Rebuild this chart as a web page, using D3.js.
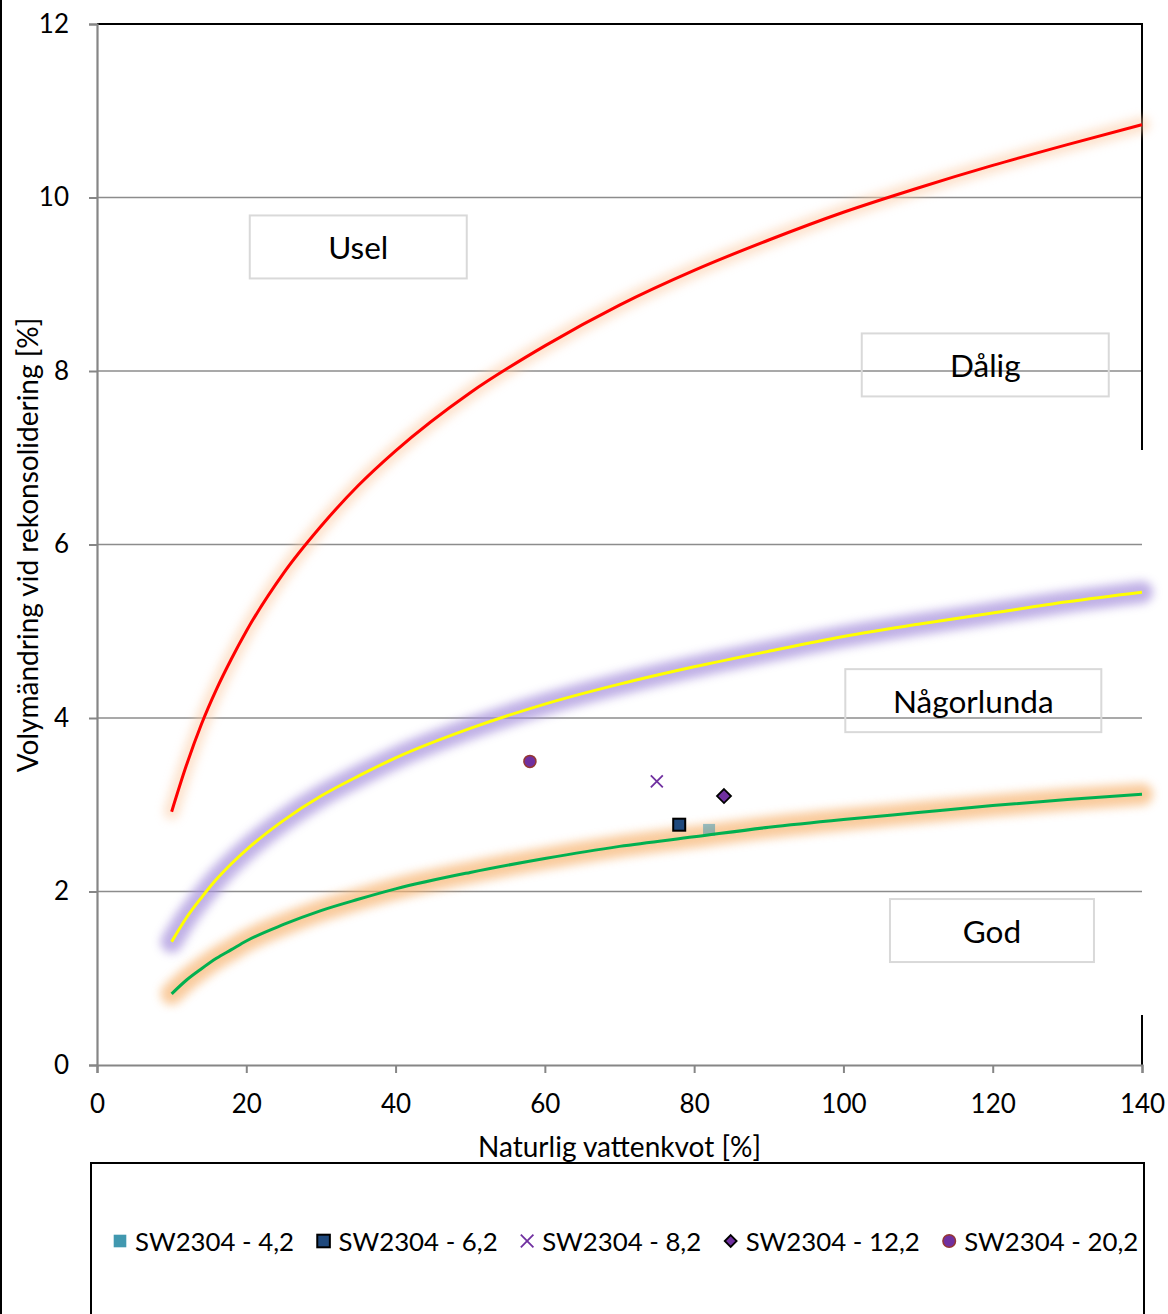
<!DOCTYPE html>
<html><head><meta charset="utf-8">
<script src="https://cdn.jsdelivr.net/npm/d3@7"></script>
<style>
html,body{margin:0;padding:0;background:#fff;}
svg{display:block;font-family:Lato, "Open Sans", sans-serif;}
</style></head>
<body>
<svg id="c" width="1168" height="1314"></svg>
<script>
// ---- data ----
const curveX = [10,12,14,16,18,20,25,30,35,40,50,60,70,80,90,100,110,120,130,140];
const redCurve    = [2.92,3.46,3.93,4.33,4.68,5.00,5.67,6.21,6.68,7.08,7.75,8.29,8.76,9.16,9.51,9.83,10.11,10.37,10.61,10.84];
const yellowCurve = [1.42,1.70,1.93,2.14,2.32,2.48,2.82,3.10,3.33,3.54,3.88,4.16,4.39,4.59,4.77,4.94,5.08,5.21,5.34,5.45];
const greenCurve  = [0.82,0.98,1.11,1.23,1.33,1.43,1.62,1.78,1.91,2.03,2.22,2.38,2.52,2.63,2.74,2.83,2.91,2.99,3.06,3.12];
const seriesNames = ["SW2304 - 4,2","SW2304 - 6,2","SW2304 - 8,2","SW2304 - 12,2","SW2304 - 20,2"];
const seriesX = [82, 78, 75, 84, 58];
const seriesY = [2.71, 2.77, 3.27, 3.10, 3.50];
const xTicks = [0,20,40,60,80,100,120,140];
const yTicks = [0,2,4,6,8,10,12];
const zoneLabels = ["Usel","Dålig","Någorlunda","God"];
const zoneX = [35.0, 119.0, 117.4, 119.9];   // centre, data units
const zoneY = [9.43, 8.07, 4.20, 1.55];
const xTitle = "Naturlig vattenkvot [%]";
const yTitle = "Volymändring vid rekonsolidering [%]";

// ---- layout ----
const L = 97, R = 1142, T = 24, B = 1065;
const svg = d3.select("#c");
const x = d3.scaleLinear().domain([0,140]).range([L,R]);
const y = d3.scaleLinear().domain([0,12]).range([B,T]);

const defs = svg.append("defs");
defs.append("filter").attr("id","glow").attr("x","-10%").attr("y","-10%").attr("width","120%").attr("height","120%")
  .append("feGaussianBlur").attr("stdDeviation",5);

// page left border
svg.append("line").attr("x1",1).attr("x2",1).attr("y1",0).attr("y2",1314).attr("stroke","#000").attr("stroke-width",2);

// gridlines
svg.append("g").selectAll("line").data(yTicks.filter(d=>d>0 && d<12)).join("line")
  .attr("x1",L).attr("x2",R).attr("y1",d=>y(d)).attr("y2",d=>y(d))
  .attr("stroke","#8c8c8c").attr("stroke-width",1.6);

// top & right frame
svg.append("line").attr("x1",L).attr("x2",R).attr("y1",T).attr("y2",T).attr("stroke","#000").attr("stroke-width",2);
svg.append("line").attr("x1",R).attr("x2",R).attr("y1",T-1).attr("y2",450).attr("stroke","#000").attr("stroke-width",2);
svg.append("line").attr("x1",R).attr("x2",R).attr("y1",1015).attr("y2",B).attr("stroke","#000").attr("stroke-width",2);

// axes
const yAxis = svg.append("g").attr("transform",`translate(${L},0)`)
  .call(d3.axisLeft(y).tickValues(yTicks).tickSize(8).tickPadding(20));
const xAxis = svg.append("g").attr("transform",`translate(0,${B})`)
  .call(d3.axisBottom(x).tickValues(xTicks).tickSize(8).tickPadding(22));
[yAxis,xAxis].forEach(g=>{
  g.select(".domain").attr("stroke","#868686").attr("stroke-width",2.2);
  g.selectAll(".tick line").attr("stroke","#868686").attr("stroke-width",2);
  g.selectAll(".tick text").attr("font-family","Lato, sans-serif").attr("font-size",26).attr("fill","#000");
});

// zone label boxes
const zw = [217, 247, 256, 204], zh = 63;
zoneLabels.forEach((t,i)=>{
  const cx = x(zoneX[i]), cy = y(zoneY[i]);
  svg.append("rect").attr("x",cx-zw[i]/2).attr("y",cy-zh/2).attr("width",zw[i]).attr("height",zh)
    .attr("fill","none").attr("stroke","#d9d9d9").attr("stroke-width",2);
  svg.append("text").attr("x",cx).attr("y",cy).attr("text-anchor","middle").attr("dominant-baseline","central")
    .attr("font-size",31.5).text(t);
});

// curves
const line = d3.line().x((d,i)=>x(curveX[i])).y(d=>y(d)).curve(d3.curveMonotoneX);
const curves = [
  {v:redCurve, c:"#ff0000", g:"#fbc9a0", gw:16, go:0.5},
  {v:yellowCurve, c:"#ffff00", g:"#a58fdb", gw:22, go:0.7},
  {v:greenCurve, c:"#00b050", g:"#f7b573", gw:22, go:0.7}
];

// markers
const sym = [
  {type:"sq", fill:"#4198af", stroke:"none", s:12},
  {type:"sq", fill:"#1f497d", stroke:"#000", s:12},
  {type:"x", fill:"none", stroke:"#7030a0", s:12},
  {type:"dia", fill:"#7030a0", stroke:"#000", s:14},
  {type:"circ", fill:"#7030a0", stroke:"#943634", s:12}
];
function drawMarker(g, i, cx, cy, scale){
  const m = sym[i], s = m.s*scale;
  if(m.type==="sq") g.append("rect").attr("x",cx-s/2).attr("y",cy-s/2).attr("width",s).attr("height",s)
      .attr("fill",m.fill).attr("stroke",m.stroke).attr("stroke-width",2);
  else if(m.type==="x") g.append("path").attr("d",`M${cx-s/2},${cy-s/2}L${cx+s/2},${cy+s/2}M${cx-s/2},${cy+s/2}L${cx+s/2},${cy-s/2}`)
      .attr("stroke",m.stroke).attr("stroke-width",1.8).attr("fill","none");
  else if(m.type==="dia") g.append("path").attr("d",`M${cx},${cy-s/2}L${cx+s/2},${cy}L${cx},${cy+s/2}L${cx-s/2},${cy}Z`)
      .attr("fill",m.fill).attr("stroke",m.stroke).attr("stroke-width",1.8);
  else g.append("circle").attr("cx",cx).attr("cy",cy).attr("r",s/2).attr("fill",m.fill).attr("stroke",m.stroke).attr("stroke-width",1.5);
}

curves.forEach(c=>{
  svg.append("path").datum(c.v).attr("d",line).attr("fill","none").attr("stroke",c.g)
    .attr("stroke-width",c.gw).attr("stroke-linecap","round").attr("opacity",c.go).attr("filter","url(#glow)");
});
const mk = svg.append("g");
seriesX.forEach((v,i)=>{
  const g = mk.append("g").attr("opacity", i===0 ? 0.55 : 1);
  drawMarker(g,i,x(v),y(seriesY[i]),1);
});
curves.forEach(c=>{
  svg.append("path").datum(c.v).attr("d",line).attr("fill","none").attr("stroke",c.c).attr("stroke-width",3);
});

// axis titles
svg.append("text").attr("x",(L+R)/2).attr("y",1146).attr("text-anchor","middle").attr("dominant-baseline","central")
  .attr("font-size",28).text(xTitle);
svg.append("text").attr("transform",`translate(27,545) rotate(-90)`).attr("text-anchor","middle").attr("dominant-baseline","central")
  .attr("font-size",28).text(yTitle);

// legend
svg.append("rect").attr("x",91).attr("y",1163).attr("width",1053).attr("height",170).attr("fill","none").attr("stroke","#000").attr("stroke-width",2);
const lg = svg.append("g");
let lx = 113; const ly = 1241;
seriesNames.forEach((n,i)=>{
  drawMarker(lg,i,lx+7,ly,i===3?0.85:1.05);
  const t = lg.append("text").attr("x",lx+22).attr("y",ly).attr("dominant-baseline","central").attr("font-size",25.8).text(n);
  lx += 22 + t.node().getComputedTextLength() + 22.5;
});
</script>
</body></html>
